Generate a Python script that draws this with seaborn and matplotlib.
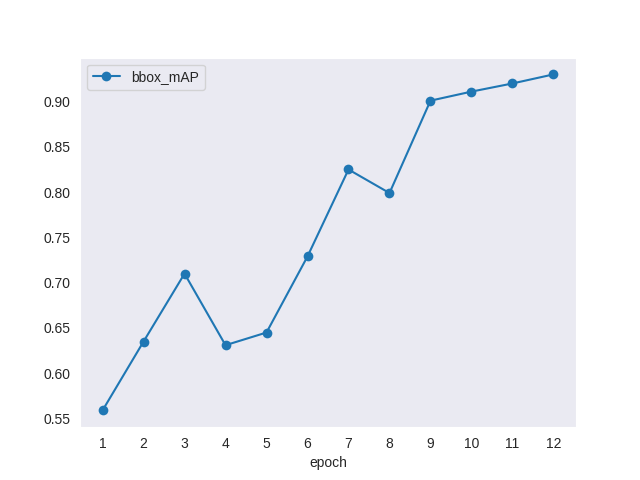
import matplotlib
matplotlib.use("Agg")
from matplotlib import pyplot as plt
import seaborn as sns
import pandas as pd

epochs = [1, 2, 3, 4, 5, 6, 7, 8, 9, 10, 11, 12]
bbox_mAP = [0.559, 0.635, 0.710, 0.631, 0.645, 0.729, 0.825, 0.799, 0.901, 0.911, 0.920, 0.930]

sns.set_style("dark")
plt.rcParams["font.family"] = ["Liberation Sans", "DejaVu Sans"]

df = pd.DataFrame({"epoch": epochs, "bbox_mAP": bbox_mAP})

fig, ax = plt.subplots(figsize=(6.4, 4.8), dpi=100)
sns.lineplot(data=df, x="epoch", y="bbox_mAP", marker="o", markersize=7,
             markeredgewidth=0, color="#1f77b4", label="bbox_mAP", ax=ax)
ax.set_xticks(epochs)
ax.set_ylabel("")
ax.set_xlabel("epoch")
ax.legend(loc="upper left")
plt.savefig("out.png", dpi=100)
